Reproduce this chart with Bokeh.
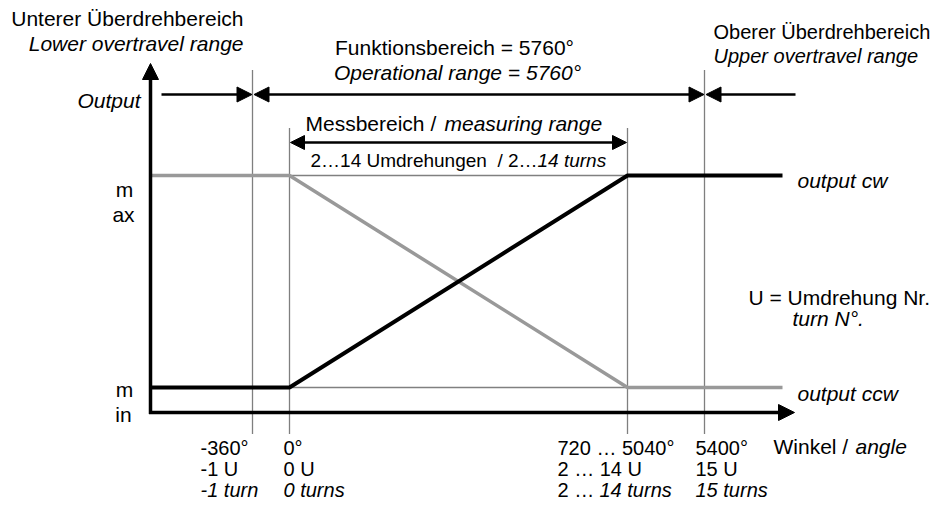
import numpy as np
from bokeh.plotting import figure
from bokeh.models import Range1d, Label, Arrow, NormalHead
from bokeh.embed import file_html
from bokeh.resources import INLINE

# ---------------- data ----------------
mark_angles = [-360, 0, 5040, 5400]          # dotted reference lines (degrees)
curve_angles = [-1080, 0, 5040, 5940]        # schematic curve breakpoints (degrees)
output_cw = [0, 0, 1, 1]                     # 0 = min, 1 = max
output_ccw = [1, 1, 0, 0]

row_deg = ["-360°", "0°", "720 … 5040°", "5400°"]
row_u = ["-1 U", "0 U", "2 … 14 U", "15 U"]
row_turns = ["-1 turn", "0 turns", "14 turns", "15 turns"]

# ---------------- schematic scale (not linear in the original) ----------------
DEG_BP = [-1080, -360, 0, 5040, 5400, 5940, 6120]
PX_BP = [150, 252, 289, 627, 704, 782, 793]


def sx(a):
    return np.interp(a, DEG_BP, PX_BP)


Y_MIN, Y_MAX, Y_AXIS = 387, 175, 412


def sy(v):
    return Y_MIN + (Y_MAX - Y_MIN) * np.asarray(v, dtype=float)


FONT = "Liberation Sans"
BLACK = "#000000"
GREY = "#999999"
W, H = 933, 505

p = figure(width=W, height=H, x_range=Range1d(0, W), y_range=Range1d(H, 0),
           output_backend="svg", toolbar_location=None, min_border=0,
           x_axis_location=None, y_axis_location=None, outline_line_color=None)
p.grid.visible = False
p.background_fill_color = "white"

# dotted reference lines
mx = sx(mark_angles)
tops = [70, 128, 128, 70]
p.segment(x0=mx, y0=tops, x1=mx, y1=[433] * 4, line_color="#000000",
          line_width=1.3, line_dash="1 1")
p.segment(x0=[sx(0)] * 2, y0=[sy(1), sy(0)], x1=[sx(5040)] * 2,
          y1=[sy(1), sy(0)],
          line_color="#000000", line_width=1.3, line_dash="1 1")

# curves
p.line(sx(curve_angles), sy(output_ccw), line_color=GREY, line_width=3.5)
p.line(sx(curve_angles), sy(output_cw), line_color=BLACK, line_width=4)


def head(size=15):
    return NormalHead(size=size, fill_color=BLACK, line_color=BLACK, line_width=1)


# axes with arrows
p.add_layout(Arrow(end=head(16), x_start=150, y_start=Y_AXIS + 1.5, x_end=150, y_end=63,
                   line_width=3.5, line_color=BLACK))
p.add_layout(Arrow(end=head(16), x_start=148.5, y_start=Y_AXIS, x_end=794, y_end=Y_AXIS,
                   line_width=3.5, line_color=BLACK))

# range arrows at top
ya = 94
x_m360, x_0, x_5040, x_5400 = mx
p.add_layout(Arrow(end=head(15), x_start=161, y_start=ya, x_end=x_m360 - 0.5, y_end=ya,
                   line_width=2.5, line_color=BLACK))
p.add_layout(Arrow(start=head(15), end=head(15), x_start=x_m360 + 1.5, y_start=ya,
                   x_end=x_5400 - 0.5, y_end=ya, line_width=2.5, line_color=BLACK))
p.add_layout(Arrow(end=head(15), x_start=795, y_start=ya, x_end=x_5400 + 1.5, y_end=ya,
                   line_width=2.5, line_color=BLACK))
# measuring range arrow
p.add_layout(Arrow(start=head(14), end=head(14), x_start=x_0 + 1, y_start=142,
                   x_end=x_5040 - 1, y_end=142, line_width=2.5, line_color=BLACK))


def lab(x, y, text, align="left", italic=False, size=21):
    p.add_layout(Label(x=x, y=y, text=text, text_align=align, text_baseline="middle",
                       text_font=FONT, text_font_size=f"{size}px",
                       text_font_style="italic" if italic else "normal",
                       text_color=BLACK))


lab(243, 18, "Unterer Überdrehbereich", "right")
lab(243, 43, "Lower overtravel range", "right", True)
lab(454, 47, "Funktionsbereich = 5760°", "center")
lab(457, 72, "Operational range = 5760°", "center", True)
lab(713, 31, "Oberer Überdrehbereich", size=20)
lab(713, 55, "Upper overtravel range", italic=True, size=20)
lab(140, 100, "Output", "right", True)
lab(305, 123, "Messbereich / ")
lab(444, 123, "measuring range", italic=True)
lab(310, 160, "2…14 Umdrehungen\u00a0 / 2…", size=19)
lab(537, 160, "14 turns", italic=True, size=19)
lab(124, 189, "m", "center")
lab(123, 214, "ax", "center")
lab(124, 389, "m", "center")
lab(123, 414, "in", "center")
lab(797, 180, "output cw", italic=True)
lab(797, 393, "output ccw", italic=True)
lab(748, 297, "U = Umdrehung Nr.")
lab(792, 318, "turn N°.", italic=True)
lab(773, 446, "Winkel / ")
lab(855, 446, "angle", italic=True)

col_x = [200, 283, 557, 695]
rows_y = [447, 468, 489]
for i, cx in enumerate(col_x):
    lab(cx, rows_y[0], row_deg[i], size=20)
    lab(cx, rows_y[1], row_u[i], size=20)
    if i == 2:
        lab(cx, rows_y[2], "2 … ", size=20)
        lab(cx + 42, rows_y[2], row_turns[i], italic=True, size=20)
    else:
        lab(cx, rows_y[2], row_turns[i], italic=True, size=20)

open("out.html", "w").write(file_html(p, INLINE))
